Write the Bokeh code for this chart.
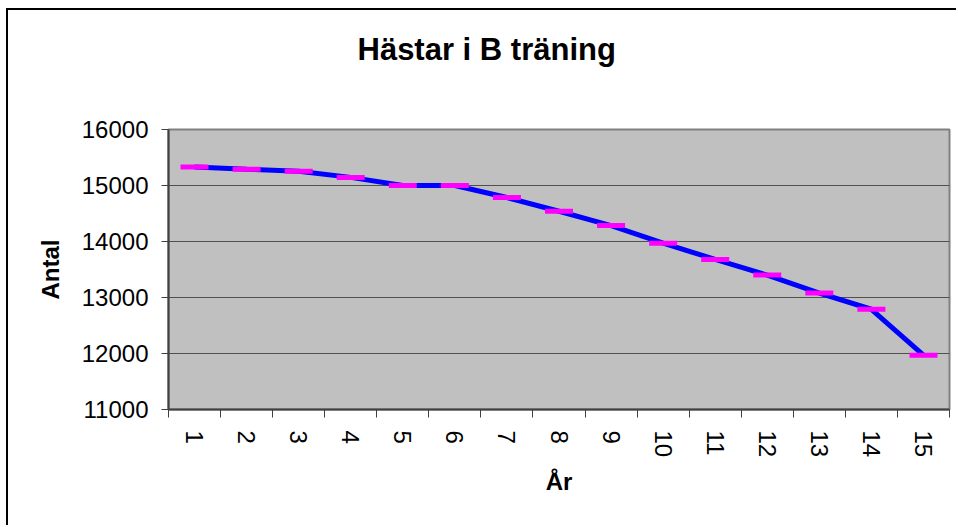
from bokeh.plotting import figure
from bokeh.models import Range1d, FixedTicker, Title, ColumnDataSource
from bokeh.embed import file_html
from bokeh.resources import INLINE
import math

# ---- data ----
years = list(range(1, 16))
year_labels = [str(y) for y in years]
antal = [15330, 15290, 15255, 15145, 15000, 15000, 14785, 14540, 14285, 13970,
         13680, 13400, 13080, 12790, 11970]
y_ticks = [11000, 12000, 13000, 14000, 15000, 16000]
title_text = "Hästar i B träning"
x_title = "År"
y_title = "Antal"

FONT = "Liberation Sans"

src = ColumnDataSource(dict(x=years, y=antal))

p = figure(width=950, height=517, output_backend="svg", toolbar_location=None,
           x_range=Range1d(0.5, 15.5), y_range=Range1d(11000, 16000),
           min_border_left=160, min_border_right=9, min_border_top=119,
           min_border_bottom=118)
p.title.text = ""

# outer chart border: only its top and left edges fall inside the window
p.styles = {"margin-left": "6px", "margin-top": "8px",
            "border-top": "2px solid black", "border-left": "2px solid black"}

p.background_fill_color = "#C0C0C0"
p.border_fill_color = "white"
p.outline_line_color = "#808080"
p.outline_line_width = 2

# grid
p.xgrid.grid_line_color = None
p.ygrid.grid_line_color = "#505050"
p.ygrid.grid_line_width = 1
p.ygrid.ticker = FixedTicker(ticks=y_ticks)

# y axis
ya = p.yaxis[0]
ya.ticker = FixedTicker(ticks=y_ticks)
ya.major_tick_out = 7
ya.major_tick_in = 0
ya.minor_tick_out = 0
ya.minor_tick_in = 0
ya.axis_line_color = "#404040"
ya.axis_line_width = 2
ya.major_tick_line_color = "#404040"
ya.major_label_standoff = 13
ya.major_label_text_font = FONT
ya.major_label_text_font_size = "24px"
ya.major_label_text_color = "black"
ya.axis_label = y_title
ya.axis_label_text_font = FONT
ya.axis_label_text_font_size = "24px"
ya.axis_label_text_font_style = "bold"
ya.axis_label_text_color = "black"
ya.axis_label_standoff = 15

# x axis: labels at year centres, ticks at boundaries (minor ticks)
xa = p.xaxis[0]
xa.ticker = FixedTicker(ticks=years, minor_ticks=[y - 0.5 for y in years] + [years[-1] + 0.5])
xa.major_label_overrides = {y: s for y, s in zip(years, year_labels)}
xa.major_tick_out = 8
xa.major_tick_in = 0
xa.major_tick_line_color = None
xa.minor_tick_out = 8
xa.minor_tick_in = 0
xa.minor_tick_line_color = "#404040"
xa.axis_line_color = "#404040"
xa.axis_line_width = 2
xa.major_label_orientation = -math.pi / 2
xa.major_label_standoff = 13
xa.major_label_text_font = FONT
xa.major_label_text_font_size = "24px"
xa.major_label_text_color = "black"
xa.axis_label = x_title
xa.axis_label_text_font = FONT
xa.axis_label_text_font_size = "24px"
xa.axis_label_text_font_style = "bold"
xa.axis_label_text_color = "black"
xa.axis_label_standoff = 8

# series
p.line("x", "y", source=src, line_color="#0000FF", line_width=5)
p.rect("x", "y", source=src, width=28, height=5, width_units="screen",
       height_units="screen", fill_color="#FF00FF", line_color=None)

# title: a blank spacer panel next to the frame, then the title itself
p.add_layout(Title(text=" ", text_font_size="10px", standoff=48), "above")
p.add_layout(Title(text=title_text, align="left", offset=189, vertical_align="top",
                   standoff=0, text_font=FONT, text_font_size="31px",
                   text_font_style="bold", text_color="black"), "above")

open("out.html", "w").write(file_html(p, INLINE))
